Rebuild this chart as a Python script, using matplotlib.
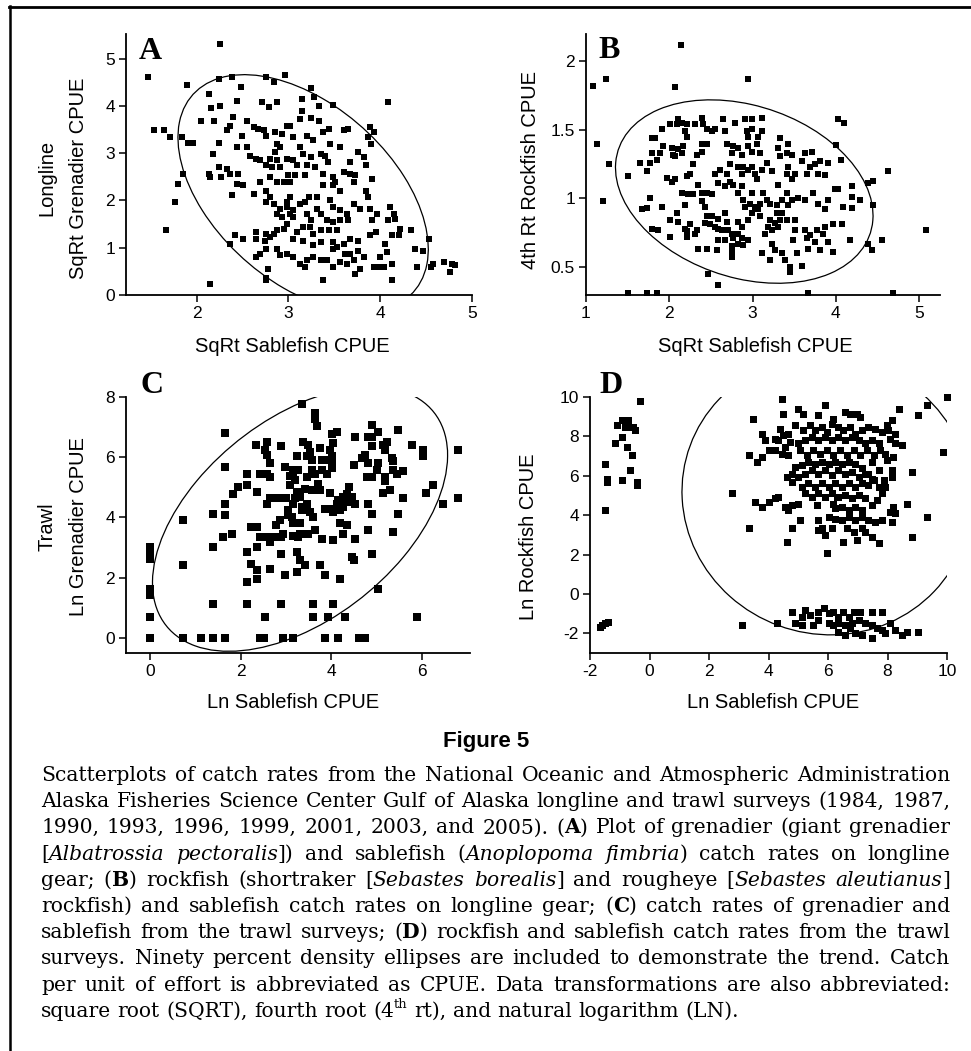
import matplotlib
matplotlib.use('Agg')
import matplotlib.pyplot as plt
from matplotlib.patches import Ellipse
from matplotlib.lines import Line2D
from matplotlib.ticker import FormatStrFormatter
import numpy as np

# ---------------- data ----------------
# A: longline, sqrt sablefish vs sqrt grenadier
A_points = np.array([
    [2.25, 5.30], [1.47, 4.61], [2.24, 4.56], [2.38, 4.62], [1.90, 4.44], [2.48, 4.39], [2.13, 4.25],
    [2.25, 4.00], [2.16, 3.96], [2.44, 4.11], [2.71, 4.08], [2.79, 3.97], [2.76, 4.61], [2.84, 4.50],
    [2.96, 4.66], [2.87, 4.08], [3.25, 4.38], [3.15, 4.15], [3.28, 4.18], [3.49, 4.02], [4.09, 4.08],
    [3.15, 3.90], [3.33, 4.00], [3.25, 3.75], [3.13, 3.73], [3.02, 3.58], [3.33, 3.69], [2.05, 3.69],
    [2.19, 3.69], [2.40, 3.76], [2.36, 3.58], [2.33, 3.48], [1.53, 3.48], [1.64, 3.48], [1.71, 3.34],
    [1.84, 3.34], [1.91, 3.21], [1.96, 3.21], [2.18, 2.99], [2.24, 3.21], [2.44, 3.13], [2.55, 3.13],
    [2.49, 3.37], [2.55, 3.69], [2.62, 3.55], [2.67, 3.51], [2.73, 3.48], [2.76, 3.37], [2.85, 3.44],
    [2.93, 3.41], [2.98, 3.58], [2.87, 3.20], [2.91, 3.13], [2.85, 3.02], [3.05, 3.34], [3.20, 3.37],
    [3.27, 3.27], [3.38, 3.44], [3.44, 3.51], [3.60, 3.48], [3.65, 3.51], [3.89, 3.55], [3.93, 3.44],
    [3.87, 3.34], [3.90, 3.20], [3.45, 3.20], [3.56, 3.13], [3.13, 3.13], [3.35, 2.99], [3.16, 2.99],
    [3.05, 2.85], [2.98, 2.88], [3.09, 2.74], [3.20, 2.74], [3.25, 2.92], [3.29, 2.70], [3.40, 2.95],
    [3.43, 2.81], [2.58, 2.95], [2.65, 2.88], [2.69, 2.85], [2.80, 2.88], [2.87, 2.85], [2.76, 2.74],
    [2.82, 2.70], [2.91, 2.70], [2.24, 2.70], [2.33, 2.67], [2.36, 2.56], [2.45, 2.56], [2.27, 2.49],
    [2.13, 2.56], [2.15, 2.49], [1.85, 2.56], [1.80, 2.35], [1.76, 1.96], [1.67, 1.37], [2.15, 0.24],
    [2.44, 2.35], [2.51, 2.32], [2.38, 2.11], [2.62, 2.14], [2.69, 2.39], [2.80, 2.49], [2.87, 2.39],
    [2.95, 2.39], [3.02, 2.39], [3.00, 2.53], [3.07, 2.53], [3.18, 2.53], [3.38, 2.56], [3.49, 2.49],
    [3.60, 2.60], [3.67, 2.56], [3.73, 2.53], [3.67, 2.81], [3.76, 3.02], [3.82, 2.92], [3.85, 2.74],
    [3.91, 2.46], [3.51, 2.39], [3.49, 2.32], [3.38, 2.32], [3.56, 2.21], [3.71, 2.39], [3.84, 2.21],
    [3.87, 2.07], [3.31, 2.07], [3.22, 2.07], [3.02, 2.07], [2.98, 1.96], [2.76, 2.21], [2.80, 2.07],
    [2.76, 1.96], [2.84, 1.93], [2.87, 1.72], [2.91, 1.82], [2.98, 1.86], [3.02, 1.72], [2.93, 1.65],
    [3.05, 1.79], [3.13, 1.93], [3.18, 1.96], [3.20, 1.72], [3.31, 1.82], [3.35, 1.72], [3.45, 2.00],
    [3.49, 1.86], [3.56, 1.79], [3.64, 1.72], [3.71, 1.93], [3.78, 1.82], [3.89, 1.82], [3.96, 1.72],
    [4.11, 1.86], [4.15, 1.72], [3.91, 1.58], [4.09, 1.58], [3.42, 1.58], [3.49, 1.54], [3.56, 1.58],
    [3.65, 1.58], [3.53, 1.37], [3.44, 1.37], [3.35, 1.37], [3.24, 1.44], [3.16, 1.44], [3.09, 1.33],
    [2.95, 1.40], [2.87, 1.37], [2.84, 1.30], [2.76, 1.30], [2.65, 1.33], [2.65, 1.19], [2.74, 1.15],
    [2.80, 1.23], [2.42, 1.26], [2.51, 1.19], [2.36, 1.08], [3.05, 1.19], [3.16, 1.15], [3.27, 1.05],
    [3.36, 1.12], [3.49, 1.12], [3.53, 1.01], [3.60, 1.08], [3.67, 1.19], [3.76, 1.15], [3.76, 0.94],
    [3.67, 0.87], [3.89, 1.26], [3.95, 1.33], [4.05, 1.08], [4.07, 0.91], [4.13, 1.26], [4.20, 1.26],
    [4.22, 1.40], [4.33, 1.37], [4.53, 1.19], [4.38, 0.98], [4.47, 0.94], [4.40, 0.59], [4.55, 0.59],
    [4.58, 0.66], [4.69, 0.70], [4.78, 0.66], [4.76, 0.49], [4.82, 0.63], [4.00, 0.80], [3.98, 0.59],
    [4.04, 0.59], [4.13, 0.66], [4.13, 0.31], [3.93, 0.59], [3.82, 0.80], [3.71, 0.73], [3.78, 0.56],
    [3.73, 0.45], [3.64, 0.66], [3.56, 0.70], [3.49, 0.59], [3.42, 0.73], [3.35, 0.73], [3.27, 0.80],
    [3.20, 0.73], [3.13, 0.66], [3.18, 0.59], [3.05, 0.80], [2.98, 0.87], [2.91, 0.84], [2.87, 0.98],
    [2.76, 0.98], [2.69, 0.87], [2.65, 0.80], [3.38, 0.31], [2.76, 0.35], [2.78, 0.56], [2.76, 0.31],
    [3.49, 0.98], [3.62, 0.87], [3.05, 1.65], [2.98, 1.51], [3.25, 1.58], [3.27, 1.30], [4.16, 1.61],
])

# B: longline, sqrt sablefish vs 4th root rockfish
B_points = np.array([
    [1.09, 1.82], [1.13, 1.40], [1.24, 1.87], [1.20, 0.98], [1.28, 1.25], [1.50, 1.16], [2.14, 2.12],
    [2.07, 1.81], [2.94, 1.87], [1.51, 0.31], [1.73, 0.31], [1.85, 0.31], [3.67, 0.31], [4.69, 0.31],
    [2.47, 0.45], [2.58, 0.37], [5.08, 0.77], [4.62, 1.20], [4.03, 1.58], [4.10, 1.55], [4.55, 0.70],
    [4.44, 0.95], [4.39, 1.11], [4.45, 1.13], [4.29, 0.99], [4.19, 1.09], [4.06, 1.28], [4.00, 1.39],
    [4.03, 1.07], [4.09, 0.94], [4.07, 0.81], [3.97, 0.81], [4.17, 0.70], [4.19, 0.93], [4.43, 0.62],
    [4.39, 0.67], [3.97, 0.61], [3.81, 0.62], [3.67, 0.63], [3.65, 0.71], [3.75, 0.68], [3.85, 0.74],
    [3.91, 0.68], [3.87, 0.79], [3.77, 0.77], [3.79, 0.96], [3.87, 0.92], [3.91, 0.99], [3.73, 1.04],
    [3.63, 0.99], [3.55, 1.00], [3.47, 0.99], [3.41, 1.04], [3.43, 0.95], [3.51, 0.84], [3.41, 0.84],
    [3.51, 0.77], [3.49, 0.70], [3.53, 0.60], [3.45, 0.50], [3.59, 0.51], [3.45, 0.46], [3.39, 0.55],
    [3.27, 0.62], [3.23, 0.67], [3.23, 0.77], [3.31, 0.79], [3.33, 0.84], [3.29, 0.89], [3.35, 0.89],
    [3.27, 0.82], [3.19, 0.79], [3.21, 0.84], [3.11, 0.60], [3.15, 0.74], [3.09, 0.87], [3.07, 0.92],
    [3.09, 0.96], [3.17, 0.99], [3.13, 1.04], [3.03, 0.94], [2.99, 0.89], [2.97, 0.96], [2.91, 0.94],
    [2.89, 0.99], [2.99, 1.04], [2.83, 1.04], [2.87, 1.09], [2.77, 1.10], [2.67, 1.09], [2.73, 1.12],
    [2.59, 1.11], [2.55, 1.18], [2.61, 1.21], [2.69, 1.18], [2.73, 1.25], [2.83, 1.23], [2.87, 1.18],
    [2.89, 1.23], [2.95, 1.21], [2.99, 1.23], [3.03, 1.18], [3.05, 1.14], [3.11, 1.21], [3.23, 1.20],
    [3.17, 1.26], [3.31, 1.10], [3.41, 1.18], [3.43, 1.23], [3.47, 1.14], [3.51, 1.18], [3.59, 1.27],
    [3.65, 1.18], [3.69, 1.23], [3.75, 1.25], [3.79, 1.18], [3.87, 1.17], [3.81, 1.27], [3.91, 1.26],
    [3.99, 1.07], [3.63, 1.33], [3.71, 1.34], [3.41, 1.33], [3.47, 1.32], [3.33, 1.44], [3.43, 1.40],
    [3.31, 1.37], [3.33, 1.31], [3.09, 1.33], [3.05, 1.40], [3.07, 1.45], [3.11, 1.49], [3.11, 1.59],
    [2.99, 1.58], [2.99, 1.51], [2.93, 1.49], [2.95, 1.45], [2.95, 1.38], [2.99, 1.34], [2.91, 1.58],
    [2.79, 1.55], [2.77, 1.38], [2.83, 1.37], [2.87, 1.32], [2.75, 1.33], [2.69, 1.40], [2.67, 1.49],
    [2.65, 1.58], [2.55, 1.51], [2.51, 1.49], [2.45, 1.51], [2.45, 1.40], [2.39, 1.40], [2.41, 1.54],
    [2.39, 1.59], [2.31, 1.54], [2.33, 1.32], [2.39, 1.34], [2.29, 1.25], [2.25, 1.18], [2.21, 1.16],
    [2.19, 1.49], [2.21, 1.54], [2.11, 1.58], [2.15, 1.55], [2.09, 1.54], [2.21, 1.45], [2.17, 1.38],
    [2.11, 1.36], [2.15, 1.33], [2.07, 1.31], [2.05, 1.32], [2.03, 1.37], [2.01, 1.54], [1.91, 1.51],
    [1.83, 1.44], [1.79, 1.44], [1.93, 1.38], [1.89, 1.33], [1.85, 1.28], [1.79, 1.33], [1.77, 1.26],
    [1.65, 1.26], [1.73, 1.20], [1.97, 1.15], [2.07, 1.14], [2.03, 1.12], [2.15, 1.04], [2.23, 1.03],
    [2.29, 1.03], [2.19, 0.95], [2.09, 0.89], [2.01, 0.84], [2.11, 0.83], [2.19, 0.78], [2.21, 0.72],
    [2.01, 0.72], [1.79, 0.78], [1.87, 0.77], [1.67, 0.92], [1.73, 0.93], [1.91, 0.94], [1.77, 1.00],
    [2.35, 1.10], [2.39, 1.04], [2.39, 0.98], [2.45, 1.04], [2.51, 1.03], [2.43, 0.94], [2.45, 0.87],
    [2.43, 0.82], [2.51, 0.87], [2.49, 0.81], [2.55, 0.79], [2.59, 0.78], [2.59, 0.85], [2.67, 0.89],
    [2.69, 0.83], [2.63, 0.77], [2.67, 0.70], [2.59, 0.70], [2.75, 0.74], [2.77, 0.71], [2.83, 0.74],
    [2.87, 0.71], [2.95, 0.70], [2.89, 0.66], [2.83, 0.67], [2.75, 0.65], [2.75, 0.57], [2.75, 0.61],
    [2.71, 0.77], [2.83, 0.83], [2.95, 0.84], [2.87, 0.79], [2.35, 0.63], [2.45, 0.63], [2.57, 0.62],
    [2.31, 0.74], [2.33, 0.77], [2.21, 0.76], [2.25, 0.81], [3.21, 0.55], [3.35, 0.60], [3.63, 0.77],
    [3.65, 0.71], [3.69, 0.73], [3.35, 0.99], [3.29, 0.95], [3.21, 0.96], [4.19, 1.01],
])

# C: trawl, ln sablefish vs ln grenadier
C_points = np.array([
    [0, 0], [0, 0.70], [0, 1.42], [0, 1.64], [0, 2.63], [0, 2.85], [0, 3.02], [0.72, 3.91], [0.72, 2.41],
    [0.72, 0], [1.13, 0], [1.40, 0], [1.65, 0], [1.40, 1.14], [1.40, 3.02], [1.40, 4.10], [1.65, 6.80],
    [1.65, 5.66], [1.65, 4.46], [1.65, 4.07], [1.62, 3.35], [1.80, 3.46], [1.82, 4.79], [1.95, 5.01],
    [2.15, 5.09], [2.15, 5.45], [2.15, 2.85], [2.15, 1.86], [2.15, 1.14], [2.22, 3.68], [2.35, 3.68],
    [2.22, 2.47], [2.35, 2.24], [2.35, 1.97], [2.35, 3.02], [2.34, 6.42], [2.35, 4.85], [2.57, 6.51],
    [2.54, 6.24], [2.57, 6.07], [2.65, 5.82], [2.43, 5.45], [2.57, 5.45], [2.65, 5.34], [2.57, 4.46],
    [2.65, 4.63], [2.83, 4.63], [2.57, 3.35], [2.43, 3.35], [2.65, 3.19], [2.54, 0.70], [2.51, 0],
    [2.43, 0], [2.65, 2.30], [2.72, 3.35], [2.79, 3.74], [2.87, 3.91], [2.90, 4.63], [3.00, 4.63],
    [2.90, 6.36], [2.98, 5.69], [2.90, 3.35], [2.93, 3.46], [2.90, 2.80], [2.90, 1.14], [2.93, 0],
    [3.15, 0], [2.98, 2.08], [3.05, 4.07], [3.09, 5.09], [3.16, 5.58], [3.16, 5.42], [3.09, 5.37],
    [3.20, 5.25], [3.27, 5.58], [3.24, 6.03], [3.24, 4.85], [3.20, 4.63], [3.16, 4.46], [3.05, 4.24],
    [3.13, 4.02], [3.16, 3.80], [3.31, 3.80], [3.31, 3.46], [3.16, 3.40], [3.27, 3.35], [3.38, 3.46],
    [3.49, 3.46], [3.24, 2.85], [3.31, 2.58], [3.42, 2.41], [3.24, 2.19], [3.31, 4.68], [3.35, 4.35],
    [3.35, 4.24], [3.46, 4.46], [3.53, 4.18], [3.42, 4.96], [3.46, 5.34], [3.46, 6.03], [3.38, 6.51],
    [3.49, 6.40], [3.53, 6.18], [3.35, 7.76], [3.64, 7.48], [3.64, 7.26], [3.68, 7.03], [3.57, 5.92],
    [3.57, 5.58], [3.64, 5.45], [3.57, 4.92], [3.60, 4.02], [3.64, 3.57], [3.79, 3.30], [3.60, 0.70],
    [3.60, 1.14], [3.75, 2.41], [3.86, 2.08], [3.86, 0], [3.93, 0.70], [3.75, 6.31], [3.79, 5.92],
    [3.86, 5.92], [3.79, 5.58], [3.90, 5.45], [3.71, 5.12], [3.75, 4.92], [3.86, 4.29], [4.01, 6.78],
    [4.12, 6.84], [4.04, 6.46], [3.97, 6.24], [4.01, 6.03], [4.01, 5.81], [4.01, 5.64], [3.97, 4.81],
    [4.01, 4.29], [4.04, 4.18], [4.04, 3.24], [4.04, 1.14], [4.14, 0], [4.12, 4.46], [4.15, 4.57],
    [4.19, 4.24], [4.26, 4.68], [4.26, 4.35], [4.30, 4.57], [4.34, 4.79], [4.38, 5.01], [4.41, 4.51],
    [4.45, 4.68], [4.52, 4.46], [4.19, 3.80], [4.34, 3.74], [4.26, 3.46], [4.19, 1.97], [4.31, 0.70],
    [4.45, 2.69], [4.49, 2.58], [4.52, 3.30], [4.49, 5.75], [4.52, 6.67], [4.60, 0], [4.74, 0],
    [4.67, 5.97], [4.74, 6.07], [4.82, 5.81], [4.89, 6.36], [4.82, 6.67], [4.89, 6.67], [4.89, 7.06],
    [5.04, 6.84], [4.78, 5.34], [4.82, 4.46], [4.89, 4.13], [4.82, 3.57], [4.89, 2.80], [5.04, 1.64],
    [4.89, 5.34], [5.04, 5.81], [5.15, 6.40], [5.18, 5.34], [5.18, 5.20], [5.15, 4.81], [5.29, 4.92],
    [5.33, 5.97], [5.37, 5.86], [5.37, 5.58], [5.44, 5.45], [5.59, 5.53], [5.48, 6.89], [5.37, 3.52],
    [5.48, 4.13], [5.59, 4.63], [5.77, 6.40], [6.03, 6.24], [6.03, 6.03], [6.10, 4.81], [6.25, 5.07],
    [6.47, 4.46], [6.80, 6.24], [6.80, 4.63], [5.88, 0.70], [5.22, 6.51], [5.18, 6.24], [5.00, 5.58],
])

# D: trawl, ln sablefish vs ln rockfish
D_points = np.array([
    [-0.32, 9.80], [-1.10, 8.56], [-0.93, 8.82], [-0.71, 8.82], [-0.82, 8.48], [-0.93, 7.97],
    [-0.54, 8.48], [-0.49, 8.31], [-1.16, 7.64], [-0.77, 7.47], [-0.60, 7.04], [-0.65, 6.28],
    [-0.43, 5.69], [-0.43, 5.52], [-0.93, 5.78], [-1.50, 6.62], [-1.44, 5.86], [-1.44, 5.69],
    [-1.50, 4.26], [-0.71, 8.48], [-1.61, -1.57], [-1.50, -1.49], [-1.38, -1.44], [-1.66, -1.66],
    [4.45, 9.92], [4.50, 9.16], [5.00, 9.41], [5.17, 9.16], [5.68, 9.07], [5.90, 9.58], [6.18, 8.90],
    [6.58, 9.24], [6.74, 9.16], [6.97, 9.16], [7.08, 8.99], [8.37, 9.41], [8.15, 8.82], [9.04, 9.07],
    [9.32, 9.58], [10.0, 10.0], [9.88, 7.21], [8.82, 6.20], [9.32, 3.92], [8.82, 2.91], [8.65, 4.59],
    [3.49, 8.90], [3.77, 8.14], [3.88, 7.80], [3.33, 7.04], [3.61, 6.71], [3.77, 6.96], [4.00, 7.30],
    [4.22, 7.30], [4.33, 7.80], [4.22, 7.89], [4.39, 8.40], [4.50, 8.06], [4.67, 8.14], [4.73, 7.72],
    [4.56, 7.47], [4.45, 7.13], [4.67, 7.04], [4.90, 8.56], [5.17, 8.31], [5.40, 8.56], [5.57, 8.31],
    [5.79, 8.48], [5.96, 8.23], [6.13, 8.65], [6.35, 8.48], [6.52, 8.31], [6.74, 8.48], [6.91, 8.14],
    [7.14, 8.31], [7.36, 8.48], [7.59, 8.40], [7.81, 8.23], [8.03, 8.31], [8.09, 7.89], [8.26, 7.64],
    [8.48, 7.55], [8.20, 6.96], [7.92, 7.13], [7.70, 7.64], [7.47, 7.80], [7.25, 7.64], [7.03, 7.80],
    [6.80, 7.97], [6.58, 7.80], [6.35, 7.97], [6.13, 7.80], [5.90, 7.97], [5.68, 7.80], [5.46, 7.97],
    [5.23, 7.80], [5.00, 7.64], [5.06, 7.30], [5.29, 7.04], [5.51, 7.30], [5.74, 7.13], [5.96, 7.30],
    [6.18, 7.04], [6.41, 7.30], [6.63, 7.04], [6.86, 7.30], [7.08, 7.04], [7.31, 7.30], [7.53, 7.04],
    [7.76, 7.30], [7.98, 6.79], [8.15, 6.28], [8.15, 5.95], [7.92, 5.44], [7.81, 5.10], [7.64, 4.76],
    [7.47, 4.51], [7.70, 5.44], [7.53, 5.78], [7.36, 6.11], [7.14, 6.37], [6.91, 6.62], [6.69, 6.71],
    [6.46, 6.62], [6.24, 6.71], [6.02, 6.62], [5.79, 6.71], [5.57, 6.62], [5.34, 6.71], [5.12, 6.54],
    [4.90, 6.45], [4.78, 6.11], [4.61, 5.95], [4.78, 5.69], [5.00, 5.95], [5.23, 6.11], [5.46, 6.28],
    [5.68, 6.11], [5.90, 6.28], [6.13, 6.03], [6.35, 6.28], [6.58, 6.11], [6.80, 6.20], [7.03, 5.95],
    [7.25, 6.11], [7.47, 5.86], [7.36, 5.52], [7.14, 5.61], [6.91, 5.44], [6.69, 5.61], [6.46, 5.44],
    [6.24, 5.61], [6.02, 5.44], [5.79, 5.61], [5.57, 5.44], [5.34, 5.61], [5.12, 5.44], [5.23, 5.10],
    [5.46, 4.93], [5.68, 5.10], [5.90, 4.93], [6.13, 5.10], [6.35, 4.93], [6.58, 5.02], [6.80, 4.85],
    [7.03, 5.02], [7.25, 4.85], [5.00, 4.59], [4.78, 4.51], [4.56, 4.43], [4.67, 4.26], [4.22, 4.85],
    [4.33, 4.93], [4.00, 4.68], [3.55, 4.68], [3.77, 4.43], [2.76, 5.10], [3.33, 3.33], [4.78, 3.33],
    [4.61, 2.65], [5.06, 3.75], [5.62, 4.51], [5.68, 3.75], [5.68, 3.24], [5.79, 3.33], [5.90, 2.99],
    [6.13, 3.33], [5.96, 2.06], [6.02, 3.92], [6.24, 3.83], [6.46, 3.75], [6.69, 3.92], [6.91, 3.75],
    [7.14, 3.92], [7.36, 3.75], [7.59, 3.67], [7.81, 3.75], [8.15, 3.67], [8.26, 4.09], [8.20, 4.43],
    [8.09, 4.17], [6.24, 4.34], [6.46, 4.43], [6.69, 4.26], [6.91, 4.43], [7.14, 4.26], [6.18, 4.59],
    [6.52, 2.65], [6.97, 2.74], [7.25, 3.16], [7.47, 2.91], [7.70, 2.57], [6.63, 3.33], [6.86, 3.16],
    [7.14, 3.33], [6.29, 4.93], [7.47, 6.71], [7.70, 6.28], [7.87, 5.78], [8.26, 8.14], [7.98, 8.56],
    [3.10, -1.57], [4.28, -1.49], [4.78, -0.90], [4.89, -1.49], [5.12, -1.57], [5.23, -0.81],
    [5.40, -1.06], [5.51, -1.57], [5.68, -1.32], [5.85, -0.73], [6.02, -0.98], [6.18, -0.90],
    [6.35, -1.15], [6.52, -0.90], [6.69, -1.15], [6.86, -0.90], [7.08, -0.90], [7.47, -0.90],
    [7.81, -0.90], [6.02, -1.49], [6.18, -1.57], [6.35, -1.49], [6.58, -1.57], [6.80, -1.49],
    [6.58, -2.08], [6.91, -2.00], [7.14, -2.08], [7.47, -2.25], [7.47, -1.57], [7.64, -1.74],
    [7.81, -1.83], [7.92, -2.00], [8.09, -1.49], [8.26, -1.83], [8.48, -2.08], [8.65, -1.91],
    [9.04, -1.91], [7.03, -1.32], [7.25, -1.49], [6.74, -1.74], [6.35, -1.91], [5.68, -0.90],
    [5.12, -1.15],
])

# 90% density ellipses: centre and shape matrix (x var, cov, y var)
A_ell_center, A_ell_shape = (3.16, 2.15), [[1.86, -1.61], [-1.61, 6.3]]
B_ell_center, B_ell_shape = (2.90, 1.05), [[2.39, -0.27], [-0.27, 0.448]]
C_ell_center, C_ell_shape = (3.31, 3.95), [[10.6, 6.9], [6.9, 19.3]]
D_ell_center, D_ell_shape = (5.95, 5.0), [[23.6, -1.0], [-1.0, 50.1]]

caption_lines = [
    [("Scatterplots of catch rates from the National Oceanic and Atmospheric Administration", "n")],
    [("Alaska Fisheries Science Center Gulf of Alaska longline and trawl surveys (1984, 1987,", "n")],
    [("1990, 1993, 1996, 1999, 2001, 2003, and 2005). (", "n"), ("A", "b"),
     (") Plot of grenadier (giant grenadier", "n")],
    [("[", "n"), ("Albatrossia pectoralis", "i"), ("]) and sablefish (", "n"),
     ("Anoplopoma fimbria", "i"), (") catch rates on longline", "n")],
    [("gear; (", "n"), ("B", "b"), (") rockfish (shortraker [", "n"), ("Sebastes borealis", "i"),
     ("] and rougheye [", "n"), ("Sebastes aleutianus", "i"), ("]", "n")],
    [("rockfish) and sablefish catch rates on longline gear; (", "n"), ("C", "b"),
     (") catch rates of grenadier and", "n")],
    [("sablefish from the trawl surveys; (", "n"), ("D", "b"),
     (") rockfish and sablefish catch rates from the trawl", "n")],
    [("surveys. Ninety percent density ellipses are included to demonstrate the trend. Catch", "n")],
    [("per unit of effort is abbreviated as CPUE. Data transformations are also abbreviated:", "n")],
    [("square root (SQRT), fourth root (4", "n"), ("th", "sup"), (" rt), and natural logarithm (LN).", "n")],
]

# ---------------- figure ----------------
plt.rcParams['font.family'] = ['Liberation Sans', 'DejaVu Sans']
plt.rcParams['axes.unicode_minus'] = False

W, H = 971, 1051
fig = plt.figure(figsize=(W / 100, H / 100), dpi=100)


def fx(px):
    return px / W


def fy(py):
    return 1 - py / H


def draw_panel(l, t, r, b, pts, center, shape, xlim, ylim, xticks, yticks, msize):
    ax = fig.add_axes([fx(l), fy(b), (r - l) / W, (b - t) / H])
    ax.scatter(pts[:, 0], pts[:, 1], marker='s', s=(msize * 0.72) ** 2, c='black',
               linewidths=0, clip_on=False, zorder=3)
    vals, vecs = np.linalg.eigh(np.array(shape))
    angle = np.degrees(np.arctan2(vecs[1, 1], vecs[0, 1]))
    ax.add_patch(Ellipse(center, 2 * np.sqrt(vals[1]), 2 * np.sqrt(vals[0]), angle=angle,
                         fill=False, ec='black', lw=0.9))
    ax.set_xlim(xlim)
    ax.set_ylim(ylim)
    ax.set_xticks(xticks)
    ax.set_yticks(yticks)
    ax.xaxis.set_major_formatter(FormatStrFormatter('%g'))
    ax.yaxis.set_major_formatter(FormatStrFormatter('%g'))
    for s in ['top', 'right']:
        ax.spines[s].set_visible(False)
    for s in ['left', 'bottom']:
        ax.spines[s].set_linewidth(1.3)
    ax.tick_params(direction='out', length=5, width=1.1, labelsize=12.5, pad=3)
    ax.patch.set_alpha(0)
    return ax


draw_panel(126, 34, 472, 295, A_points, A_ell_center, A_ell_shape,
           (1.23, 5.0), (0, 5.52), [2, 3, 4, 5], [0, 1, 2, 3, 4, 5], 6.5)
draw_panel(586, 34, 940, 295, B_points, B_ell_center, B_ell_shape,
           (1, 5.25), (0.295, 2.2), [1, 2, 3, 4, 5], [0.5, 1, 1.5, 2], 6)
draw_panel(126, 397, 470, 653, C_points, C_ell_center, C_ell_shape,
           (-0.53, 7.06), (-0.5, 8), [0, 2, 4, 6], [0, 2, 4, 6, 8], 8)
draw_panel(590, 397, 947, 653, D_points, D_ell_center, D_ell_shape,
           (-2, 10), (-3, 10), [-2, 0, 2, 4, 6, 8, 10], [-2, 0, 2, 4, 6, 8, 10], 7)

# panel letters
for letter, px, py in [("A", 139, 59), ("B", 598, 58), ("C", 140, 393), ("D", 599, 393)]:
    fig.text(fx(px), fy(py), letter, family='Liberation Serif', weight='bold', size=23,
             ha='left', va='baseline')

# axis labels
lab = dict(size=14.5, ha='center', va='center')
fig.text(fx(47), fy(178), "Longline", rotation=90, **lab)
fig.text(fx(78), fy(178), "SqRt Grenadier CPUE", rotation=90, **lab)
fig.text(fx(530), fy(170), "4th Rt Rockfish CPUE", rotation=90, **lab)
fig.text(fx(47), fy(527), "Trawl", rotation=90, **lab)
fig.text(fx(78), fy(527), "Ln Grenadier CPUE", rotation=90, **lab)
fig.text(fx(529), fy(537), "Ln Rockfish CPUE", rotation=90, **lab)
fig.text(fx(292), fy(347), "SqRt Sablefish CPUE", **lab)
fig.text(fx(755), fy(347), "SqRt Sablefish CPUE", **lab)
fig.text(fx(293), fy(702), "Ln Sablefish CPUE", **lab)
fig.text(fx(773), fy(702), "Ln Sablefish CPUE", **lab)

fig.text(fx(486), fy(742), "Figure 5", family='Liberation Sans',
         weight='bold', size=16, ha='center', va='center')

# frame (top and left rules)
fig.add_artist(Line2D([fx(9), 1], [fy(7), fy(7)], color='black', lw=2, transform=fig.transFigure))
fig.add_artist(Line2D([fx(10), fx(10)], [fy(6), 0], color='black', lw=1.8, transform=fig.transFigure))

# ---------------- caption, justified ----------------
renderer = fig.canvas.get_renderer()


def style_kw(st, size):
    kw = dict(family='DejaVu Serif', size=size)
    if st == 'b':
        kw['weight'] = 'bold'
    elif st == 'i':
        kw['style'] = 'italic'
    elif st == 'sup':
        kw['size'] = size * 0.65
    return kw


def text_width(s, st, size):
    t = fig.text(0, 0, s, **style_kw(st, size))
    w = t.get_window_extent(renderer).width
    t.remove()
    return w


def split_words(segs):
    words = [[]]
    for text, st in segs:
        parts = text.split(' ')
        for i, p in enumerate(parts):
            if i > 0:
                words.append([])
            if p:
                words[-1].append((p, st))
    return [w for w in words if w]


cap_x0, cap_x1 = 41, 950
cap_y0, cap_dy = 781, 26.2

# pick the size so the longest line fits with normal word spacing
base = 10.0
sp_base = text_width("x x", "n", base) - text_width("xx", "n", base)
natural = []
for segs in caption_lines[:-1]:
    words = split_words(segs)
    wsum = sum(text_width(p, st, base) for w in words for p, st in w)
    natural.append(wsum + sp_base * (len(words) - 1))
cap_size = base * (cap_x1 - cap_x0) / max(natural) * 0.99
space = text_width("x x", "n", cap_size) - text_width("xx", "n", cap_size)

for i, segs in enumerate(caption_lines):
    words = split_words(segs)
    widths = [[text_width(p, st, cap_size) for p, st in w] for w in words]
    total = sum(sum(w) for w in widths)
    last = i == len(caption_lines) - 1
    gap = space if last else (cap_x1 - cap_x0 - total) / (len(words) - 1)
    y = cap_y0 + i * cap_dy
    x = cap_x0
    for w, ws in zip(words, widths):
        for (p, st), pw in zip(w, ws):
            yy = y - (cap_size * 0.42 * 100 / 72 if st == 'sup' else 0)
            fig.text(fx(x), fy(yy), p, ha='left', va='baseline', **style_kw(st, cap_size))
            x += pw
        x += gap

fig.savefig('out.png', dpi=100)
